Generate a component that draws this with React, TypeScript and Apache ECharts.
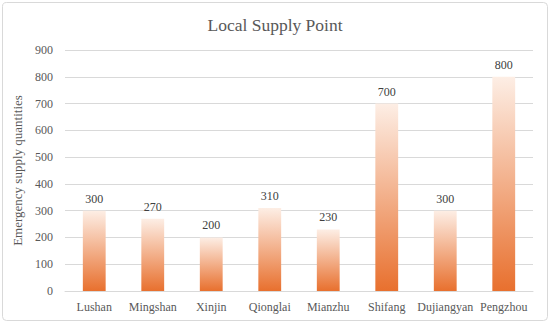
import React, { useEffect, useRef } from "react";
import * as echarts from "echarts";

const categories = ["Lushan", "Mingshan", "Xinjin", "Qionglai", "Mianzhu", "Shifang", "Dujiangyan", "Pengzhou"];
const values = [300, 270, 200, 310, 230, 700, 300, 800];
const titleText = "Local Supply Point";
const yAxisName = "Emergency supply quantities";

const FONT = "Liberation Serif";

export default function App() {
  const ref = useRef<HTMLDivElement>(null);
  useEffect(() => {
    if (!ref.current) return;
    const chart = echarts.init(ref.current, null, { renderer: "svg" });
    chart.setOption({
      animation: false,
      backgroundColor: "#ffffff",
      textStyle: { fontFamily: FONT },
      title: {
        text: titleText,
        left: "center",
        top: 11,
        textStyle: { fontFamily: FONT, fontSize: 17.5, fontWeight: "normal", color: "#595959" },
      },
      graphic: [
        {
          type: "rect",
          shape: { x: 2.5, y: 2.5, width: 545, height: 318, r: 4 },
          style: { fill: "none", stroke: "#d9d9d9", lineWidth: 1 },
          silent: true,
        },
      ],
      grid: { left: 65, right: 17, top: 50, bottom: 32 },
      xAxis: {
        type: "category",
        data: categories,
        axisTick: { show: false },
        axisLine: { lineStyle: { color: "#d9d9d9" } },
        axisLabel: { fontFamily: FONT, fontSize: 12, color: "#595959", margin: 10, interval: 0 },
      },
      yAxis: {
        type: "value",
        min: 0,
        max: 900,
        interval: 100,
        name: yAxisName,
        nameLocation: "middle",
        nameGap: 32,
        nameTextStyle: { fontFamily: FONT, fontSize: 13, color: "#595959" },
        axisLabel: { fontFamily: FONT, fontSize: 12, color: "#595959", margin: 12 },
        splitLine: { lineStyle: { color: "#d9d9d9" } },
        axisLine: { show: false },
        axisTick: { show: false },
      },
      series: [
        {
          type: "bar",
          data: values,
          barWidth: "39%",
          itemStyle: {
            color: new echarts.graphic.LinearGradient(0, 0, 0, 1, [
              { offset: 0, color: "#fdeee5" },
              { offset: 1, color: "#e8702e" },
            ]),
          },
          label: {
            show: true,
            position: "top",
            distance: 6,
            fontFamily: FONT,
            fontSize: 12,
            color: "#404040",
          },
        },
      ],
    });
    return () => chart.dispose();
  }, []);
  return <div ref={ref} style={{ width: 550, height: 323, position: "absolute", left: 0, top: 0 }} />;
}
